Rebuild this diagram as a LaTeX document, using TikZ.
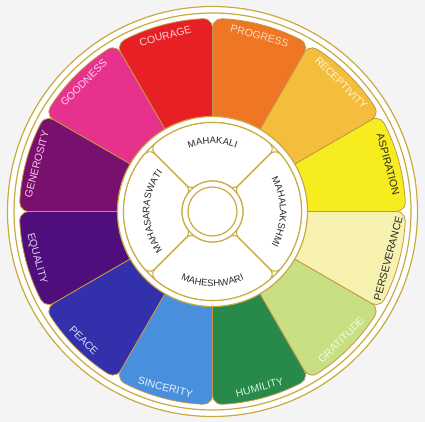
\documentclass[tikz,border=0pt]{standalone}
\usepackage{fontspec}
\setmainfont{Liberation Sans}
\usetikzlibrary{decorations.text}
\definecolor{gold}{RGB}{201,170,62}
\definecolor{sepline}{RGB}{196,150,70}
\definecolor{bgc}{RGB}{244,244,244}
\definecolor{cAspiration}{RGB}{246,236,30}
\definecolor{cReceptivity}{RGB}{244,190,60}
\definecolor{cProgress}{RGB}{238,118,36}
\definecolor{cCourage}{RGB}{232,32,38}
\definecolor{cGoodness}{RGB}{230,50,140}
\definecolor{cGenerosity}{RGB}{122,16,110}
\definecolor{cEquality}{RGB}{80,14,124}
\definecolor{cPeace}{RGB}{50,48,170}
\definecolor{cSincerity}{RGB}{72,144,222}
\definecolor{cHumility}{RGB}{40,138,74}
\definecolor{cGratitude}{RGB}{200,224,130}
\definecolor{cPerseverance}{RGB}{248,242,176}
\definecolor{inkdark}{RGB}{40,40,40}
% colour segment: start angle, colour
\newcommand\wheelseg[2]{%
  \pgfmathsetmacro\sga{#1}\pgfmathsetmacro\sgb{#1+30}%
  \filldraw[fill=#2, draw=sepline, line width=0.8pt]
    (\sga:94pt) -- (\sga:183.78pt)
    arc[start angle=\sga-90, end angle=\sga+2.804, radius=9pt]
    arc[start angle=\sga+2.804, end angle=\sgb-2.804, radius=193pt]
    arc[start angle=\sgb-2.804, end angle=\sgb+90, radius=9pt]
    -- (\sgb:94pt) arc[start angle=\sgb, end angle=\sga, radius=94pt] -- cycle;}
% petal: start angle
\newcommand\wheelpetal[1]{%
  \pgfmathsetmacro\pta{#1}\pgfmathsetmacro\ptb{#1+90}%
  \filldraw[fill=white, draw=gold, line width=1.1pt]
    (\pta:36.84pt) -- (\pta:81.70pt)
    arc[start angle=\pta-90, end angle=\pta+4.897, radius=7pt]
    arc[start angle=\pta+4.897, end angle=\ptb-4.897, radius=89pt]
    arc[start angle=\ptb-4.897, end angle=\ptb+90, radius=7pt]
    -- (\ptb:36.84pt)
    arc[start angle=\ptb+90, end angle=\ptb+180-10.758, radius=7pt]
    arc[start angle=\ptb-10.758, end angle=\pta+10.758, radius=30.5pt]
    arc[start angle=\pta+10.758+180, end angle=\pta+270, radius=7pt] -- cycle;}
\begin{document}
\begin{tikzpicture}[x=1pt,y=1pt,
  goldline/.style={draw=gold, line width=1.2pt},
  lab/.style={font=\fontsize{10.5}{12}\selectfont, inner sep=0pt, anchor=center},
  innerlab/.style={decorate, decoration={text along path, text align=center,
      text={|\fontsize{9.5}{11}\selectfont\color{inkdark}|#1}}},
]
\fill[bgc] (0,0) rectangle (425,422);
\useasboundingbox (0,0) rectangle (425,422);
\begin{scope}[shift={(212.5,210.5)}]
  \filldraw[fill=white, goldline] (0,0) circle[radius=205];
  \draw[goldline] (0,0) circle[radius=198.5];
  \wheelseg{0}{cAspiration}
  \wheelseg{30}{cReceptivity}
  \wheelseg{60}{cProgress}
  \wheelseg{90}{cCourage}
  \wheelseg{120}{cGoodness}
  \wheelseg{150}{cGenerosity}
  \wheelseg{180}{cEquality}
  \wheelseg{210}{cPeace}
  \wheelseg{240}{cSincerity}
  \wheelseg{270}{cHumility}
  \wheelseg{300}{cGratitude}
  \wheelseg{330}{cPerseverance}
  \filldraw[fill=white, goldline] (0,0) circle[radius=95];
  \draw[goldline] (0,0) circle[radius=89];
  \wheelpetal{45}
  \wheelpetal{135}
  \wheelpetal{225}
  \wheelpetal{315}
  \filldraw[fill=white, goldline] (0,0) circle[radius=30.5];
  \draw[goldline] (0,0) circle[radius=24.5];
  % outer labels
  \node[lab, text=inkdark, rotate=-75] (aspiration) at (15:182) {ASPIRATION};
  \node[lab, text={rgb,255:red,255;green,246;blue,222}, rotate=-45] (receptivity) at (45:182) {RECEPTIVITY};
  \node[lab, text={rgb,255:red,252;green,222;blue,196}, rotate=-15] (progress) at (75:182) {PROGRESS};
  \node[lab, text={rgb,255:red,250;green,210;blue,210}, rotate=15] (courage) at (105:182) {COURAGE};
  \node[lab, text={rgb,255:red,250;green,212;blue,232}, rotate=45] (goodness) at (135:182) {GOODNESS};
  \node[lab, text={rgb,255:red,242;green,200;blue,234}, rotate=75] (generosity) at (165:182) {GENEROSITY};
  \node[lab, text={rgb,255:red,220;green,204;blue,244}, rotate=-75] (equality) at (195:182) {EQUALITY};
  \node[lab, text={rgb,255:red,220;green,220;blue,250}, rotate=-45] (peace) at (225:182) {PEACE};
  \node[lab, text={rgb,255:red,234;green,242;blue,255}, rotate=-15] (sincerity) at (255:182) {SINCERITY};
  \node[lab, text={rgb,255:red,214;green,240;blue,222}, rotate=15] (humility) at (285:182) {HUMILITY};
  \node[lab, text={rgb,255:red,244;green,250;blue,228}, rotate=45] (gratitude) at (315:182) {GRATITUDE};
  \node[lab, text=inkdark, rotate=75] (perseverance) at (345:182) {PERSEVERANCE};
  % inner labels
  \path[innerlab=MAHAKALI] (150:67.5) arc[start angle=150, end angle=30, radius=67.5];
  \path[innerlab=MAHALAKSHMI] (60:67.5) arc[start angle=60, end angle=-60, radius=67.5];
  \path[innerlab=MAHESHWARI] (210:75) arc[start angle=210, end angle=330, radius=75];
  \path[innerlab=MAHASARASWATI] (240:63) arc[start angle=240, end angle=120, radius=63];
\end{scope}
\end{tikzpicture}
\end{document}
